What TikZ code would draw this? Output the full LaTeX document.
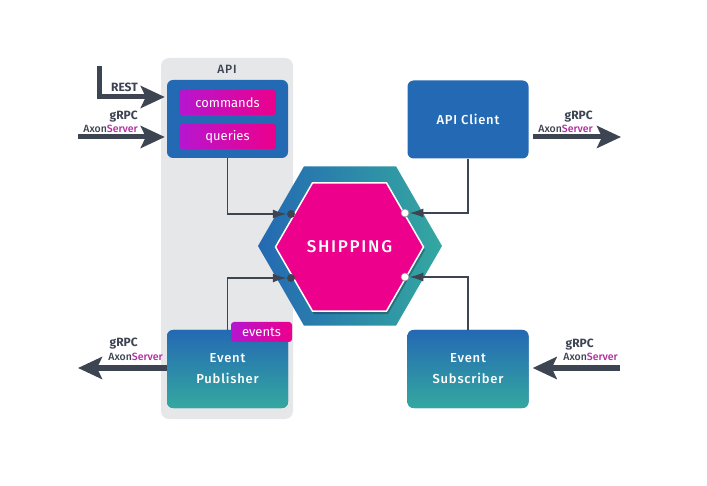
\documentclass[tikz,border=0pt]{standalone}
\usepackage{fontspec}
\setmainfont{Fira Sans}
\newfontfamily\mediumfont{Fira Sans Medium}
\usetikzlibrary{arrows.meta,shapes.geometric}

\definecolor{axblue}{RGB}{36,105,179}
\definecolor{axteal}{RGB}{52,168,160}
\definecolor{axpink}{RGB}{236,0,140}
\definecolor{axpurple}{RGB}{182,22,208}
\definecolor{panelgrey}{RGB}{230,231,233}
\definecolor{pipegrey}{RGB}{61,68,82}
\definecolor{srvpurple}{RGB}{176,44,158}

\tikzset{
 box/.style={rounded corners=6pt, fill=axblue, minimum width=121pt, minimum height=78pt,
  text=white, align=center, font=\fontsize{13}{21}\selectfont\mediumfont\addfontfeature{LetterSpace=6}},
 tag/.style={rounded corners=3pt, left color=axpurple, right color=axpink, minimum width=97pt,
  minimum height=25pt, inner sep=0pt, text=white, font=\fontsize{13}{14}\selectfont},
 hexshell/.style={regular polygon, regular polygon sides=6, minimum size=184pt, inner sep=0pt,
  left color=axblue, right color=axteal},
 hexcore/.style={regular polygon, regular polygon sides=6, minimum size=148pt, inner sep=0pt,
  fill=axpink, draw=white, line width=1.5pt, text=white,
  font=\fontsize{17}{18}\selectfont\mediumfont\addfontfeature{LetterSpace=10}},
 dotin/.style={circle, fill=pipegrey, minimum size=8pt, inner sep=0pt},
 dotout/.style={circle, fill=white, draw=pipegrey!60, line width=0.6pt, minimum size=8pt, inner sep=0pt},
 wire/.style={line width=1.8pt, pipegrey, -{Latex[length=14pt,width=9pt]}},
 pipe/.style={line width=5pt, pipegrey, -{Stealth[length=24pt,width=22pt,inset=5pt]}},
 proto/.style={text=pipegrey, inner sep=0pt, font=\fontsize{12}{13}\selectfont\bfseries},
 axon/.style={text=pipegrey, inner sep=0pt, font=\fontsize{10.5}{12}\selectfont\mediumfont}
}

\begin{document}
\begin{tikzpicture}[x=1pt, y=-1pt]
 \useasboundingbox (0,0) rectangle (707,486);

 \node [fill=panelgrey, rounded corners=8pt, minimum width=132pt, minimum height=361pt] (panel) at (227,238.5) {};
 \node [text=pipegrey, font=\fontsize{12}{13}\selectfont\mediumfont\addfontfeature{LetterSpace=6}, inner sep=0pt] (panellbl) at (227,69) {API};

 \node [box] (api) at (227.5,119) {};
 \node [tag] (cmd) at (227.5,102.5) {commands};
 \node [tag] (qry) at (227.5,136.5) {queries};

 \node [box] (client) at (468,119.5) {API Client};
 \node [box, top color=axblue, bottom color=axteal] (pub) at (227.5,369) {Event\\Publisher};
 \node [tag, minimum width=61pt, minimum height=20pt] (evt) at (261.5,332) {events};
 \node [box, top color=axblue, bottom color=axteal] (sub) at (468,369) {Event\\Subscriber};

 \node [hexshell] (shell) at (350,246) {};
 \node [hexcore, draw=none, fill=black, opacity=0.25] (shade) at (351,250) {};
 \node [hexcore] (core) at (349.5,247) {SHIPPING};

 \node [dotin] (inA) at (291,214) {};
 \node [dotin] (inB) at (291,278) {};
 \node [dotout] (outA) at (405,213) {};
 \node [dotout] (outB) at (405,277) {};

 \draw [wire] (api.south) |- (inA);
 \draw [wire] (pub.north) |- (inB);
 \draw [wire] (client.south) |- (outA);
 \draw [wire] (sub.north) |- (outB);

 \coordinate (restin) at (99,66);
 \coordinate (grpcA) at (78,137);
 \coordinate (grpcB) at (621,137);
 \coordinate (grpcC) at (78,368);
 \coordinate (grpcD) at (620,368);

 \draw [pipe, shorten >=2pt] (restin) |- (api.west |- 0,97);
 \node [proto, anchor=east] (restlbl) at (138,87) {REST};

 \draw [pipe, shorten >=2pt] (grpcA) -- (api.west |- grpcA);
 \node [proto, anchor=east] (grpcAl) at (138,116.5) {gRPC};
 \node [axon, anchor=east] (axonA) at (138,128.5) {Axon\textcolor{srvpurple}{Server}};

 \draw [pipe, shorten <=4pt] (client.east |- grpcB) -- (grpcB);
 \node [proto, anchor=east] (grpcBl) at (593,116.5) {gRPC};
 \node [axon, anchor=east] (axonB) at (593,129) {Axon\textcolor{srvpurple}{Server}};

 \draw [pipe] (pub.west |- grpcC) -- (grpcC);
 \node [proto, anchor=east] (grpcCl) at (138,344) {gRPC};
 \node [axon, anchor=east] (axonC) at (163,356.5) {Axon\textcolor{srvpurple}{Server}};

 \draw [pipe, shorten >=4pt] (grpcD) -- (sub.east |- grpcD);
 \node [proto, anchor=east] (grpcDl) at (594,344.5) {gRPC};
 \node [axon, anchor=east] (axonD) at (618,356.5) {Axon\textcolor{srvpurple}{Server}};
\end{tikzpicture}
\end{document}
